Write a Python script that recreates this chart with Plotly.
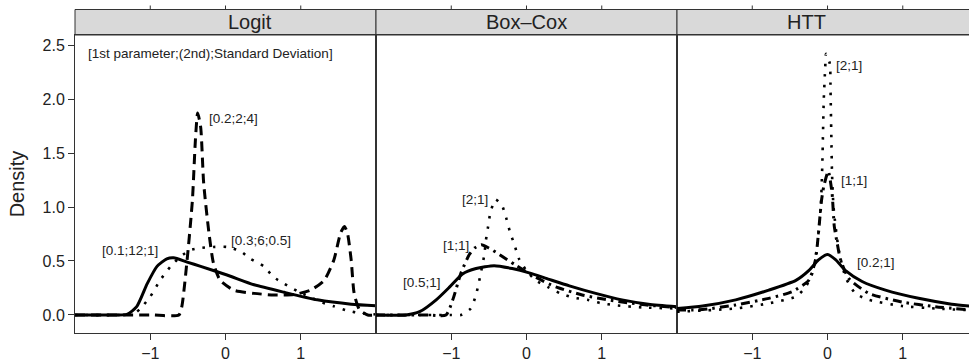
import plotly.graph_objects as go

# ---------------- data ----------------
panels = ["Logit", "Box\u2013Cox", "HTT"]

# Logit panel
logit_a_x = [-2.0, -1.5, -1.31, -1.18, -1.04, -0.91, -0.78, -0.69, -0.51, -0.33, 0.02, 0.38, 0.78, 1.22, 1.67, 2.0]
logit_a_y = [0.0, 0.0, 0.005, 0.077, 0.29, 0.45, 0.52, 0.53, 0.49, 0.45, 0.37, 0.28, 0.21, 0.14, 0.10, 0.086]
logit_b_x = [-2.0, -1.0, -0.62, -0.58, -0.51, -0.44, -0.40, -0.37, -0.33, -0.29, -0.22, -0.16, -0.07, 0.11, 0.38, 0.64, 0.91, 1.13, 1.31, 1.44, 1.53, 1.58, 1.62, 1.67, 1.71, 1.78, 1.89, 2.0]
logit_b_y = [0.0, 0.0, 0.0, 0.08, 0.51, 1.06, 1.62, 1.87, 1.74, 1.22, 0.76, 0.48, 0.32, 0.23, 0.20, 0.185, 0.19, 0.23, 0.32, 0.51, 0.76, 0.82, 0.76, 0.51, 0.20, 0.05, 0.0, 0.0]
logit_c_x = [-2.0, -1.4, -1.22, -1.13, -1.0, -0.87, -0.73, -0.6, -0.47, -0.33, -0.16, 0.02, 0.2, 0.33, 0.51, 0.64, 0.78, 0.96, 1.27, 1.44, 1.62, 1.8, 2.0]
logit_c_y = [0.0, 0.0, 0.01, 0.06, 0.17, 0.32, 0.45, 0.54, 0.60, 0.62, 0.63, 0.63, 0.59, 0.52, 0.45, 0.35, 0.29, 0.22, 0.12, 0.08, 0.04, 0.015, 0.005]

# Box-Cox panel
bc_a_x = [-2.0, -1.6, -1.42, -1.2, -1.02, -0.85, -0.67, -0.43, -0.19, 0.035, 0.3, 0.57, 0.92, 1.27, 1.62, 2.0]
bc_a_y = [0.0, 0.0, 0.03, 0.14, 0.26, 0.38, 0.43, 0.457, 0.43, 0.39, 0.33, 0.27, 0.20, 0.14, 0.10, 0.077]
bc_b_x = [-2.0, -1.3, -1.07, -0.98, -0.87, -0.76, -0.69, -0.6, -0.5, -0.36, -0.14, 0.12, 0.39, 0.74, 1.0, 1.27, 1.62, 2.0]
bc_b_y = [0.0, 0.0, 0.0, 0.14, 0.39, 0.56, 0.62, 0.65, 0.62, 0.56, 0.46, 0.35, 0.26, 0.185, 0.15, 0.12, 0.09, 0.07]
bc_c_x = [-2.0, -1.0, -0.87, -0.74, -0.67, -0.63, -0.56, -0.54, -0.51, -0.48, -0.43, -0.41, -0.33, -0.27, -0.22, -0.16, -0.1, -0.01, 0.12, 0.28, 0.45, 0.63, 0.81, 0.98, 1.18, 1.54, 2.0]
bc_c_y = [0.0, 0.0, 0.0, 0.06, 0.19, 0.31, 0.56, 0.69, 0.82, 0.95, 1.05, 1.07, 1.02, 0.90, 0.77, 0.65, 0.52, 0.42, 0.32, 0.26, 0.20, 0.16, 0.14, 0.11, 0.09, 0.07, 0.06]

# HTT panel
htt_a_x = [-2.0, -1.66, -1.22, -0.78, -0.42, -0.25, -0.12, 0.0, 0.11, 0.24, 0.46, 0.77, 1.21, 1.65, 2.0]
htt_a_y = [0.06, 0.083, 0.14, 0.23, 0.32, 0.41, 0.51, 0.56, 0.51, 0.41, 0.31, 0.23, 0.154, 0.10, 0.075]
htt_b_x = [-2.0, -1.66, -1.22, -0.78, -0.47, -0.25, -0.16, -0.12, -0.08, -0.05, 0.01, 0.06, 0.09, 0.13, 0.17, 0.28, 0.55, 0.99, 1.43, 2.0]
htt_b_y = [0.046, 0.05, 0.093, 0.154, 0.216, 0.32, 0.51, 0.76, 1.06, 1.19, 1.33, 1.13, 0.82, 0.66, 0.52, 0.34, 0.20, 0.12, 0.077, 0.04]
htt_c_x = [-2.0, -1.22, -0.78, -0.42, -0.29, -0.2, -0.14, -0.09, -0.07, -0.06, -0.05, -0.03, -0.02, 0.03, 0.04, 0.05, 0.06, 0.08, 0.15, 0.24, 0.37, 0.55, 0.99, 1.43, 2.0]
htt_c_y = [0.03, 0.06, 0.108, 0.17, 0.26, 0.39, 0.63, 1.0, 1.37, 1.68, 1.99, 2.3, 2.42, 2.33, 2.08, 1.68, 1.31, 1.0, 0.6, 0.35, 0.2, 0.14, 0.083, 0.06, 0.04]

# labels: (panel index, text, x, y)
label_panel = [0, 0, 0, 0, 1, 1, 1, 2, 2, 2]
label_text = ["[1st parameter;(2nd);Standard Deviation]", "[0.2;2;4]", "[0.3;6;0.5]", "[0.1;12;1]",
              "[2;1]", "[1;1]", "[0.5;1]", "[2;1]", "[1;1]", "[0.2;1]"]
label_x = [-1.85, -0.24, 0.05, -1.67, -0.89, -1.13, -1.67, 0.09, 0.15, 0.37]
label_y = [2.42, 1.82, 0.69, 0.60, 1.07, 0.64, 0.30, 2.31, 1.25, 0.485]

x_ticks = [-1, 0, 1]
y_ticks = [0.0, 0.5, 1.0, 1.5, 2.0, 2.5]
x_ranges = [[-2.0, 2.0], [-2.0, 2.0], [-2.0, 1.88]]
y_range = [-0.167, 2.593]

# ---------------- styles ----------------
SOLID = dict(color="black", width=3, dash="solid")
DASH = dict(color="black", width=3, dash="10px,6px")
DOT = dict(color="black", width=2.6, dash="2.5px,8px")
DASHDOT = dict(color="black", width=3, dash="9px,5px,2.5px,5px")

series = [
    (0, logit_a_x, logit_a_y, SOLID),
    (0, logit_b_x, logit_b_y, DASH),
    (0, logit_c_x, logit_c_y, DOT),
    (1, bc_a_x, bc_a_y, SOLID),
    (1, bc_b_x, bc_b_y, DASHDOT),
    (1, bc_c_x, bc_c_y, DOT),
    (2, htt_a_x, htt_a_y, SOLID),
    (2, htt_b_x, htt_b_y, DASHDOT),
    (2, htt_c_x, htt_c_y, DOT),
]

FONT = "Liberation Sans, Arial, sans-serif"
W, H = 969, 362
ML, MR, MT, MB = 75, 0, 0, 29
plot_w = W - ML - MR
plot_h = H - MT - MB
panel_px = [301, 301, 292]
edges = [0]
for p in panel_px:
    edges.append(edges[-1] + p)
domains = [[edges[i] / plot_w, min(edges[i + 1] / plot_w, 1.0)] for i in range(3)]
y_dom_top = 298 / plot_h
strip_top = (plot_h - 9.5) / plot_h

fig = go.Figure()
for pi, xs, ys, ln in series:
    ax = "" if pi == 0 else str(pi + 1)
    fig.add_trace(go.Scatter(x=xs, y=ys, mode="lines", line=dict(shape="spline", smoothing=0.6, **ln),
                             xaxis="x" + ax, yaxis="y" + ax, showlegend=False, hoverinfo="skip"))

layout = dict(
    width=W, height=H,
    margin=dict(l=ML, r=MR, t=MT, b=MB),
    plot_bgcolor="white", paper_bgcolor="white",
    font=dict(family=FONT, color="#222"),
    showlegend=False,
)
AXC = "#333"
for i in range(3):
    ax = "" if i == 0 else str(i + 1)
    layout["xaxis" + ax] = dict(
        domain=domains[i], range=x_ranges[i], anchor="y" + ax,
        tickvals=x_ticks, ticktext=["\u22121", "0", "1"],
        ticks="outside", ticklen=6, tickcolor=AXC, tickwidth=1,
        showline=True, linecolor=AXC, linewidth=1, mirror=True,
        showgrid=False, zeroline=False, automargin=False,
        tickfont=dict(size=16, color="#222"),
    )
    layout["yaxis" + ax] = dict(
        domain=[0, y_dom_top], range=y_range, anchor="x" + ax,
        tickvals=y_ticks,
        showline=True, linecolor=AXC, linewidth=1, mirror=(i < 2),
        showgrid=False, zeroline=False, automargin=False,
        ticks="outside" if i == 0 else "", ticklen=6, tickcolor=AXC,
        showticklabels=(i == 0),
        tickfont=dict(size=16, color="#222"), tickformat=".1f",
    )
layout["yaxis"]["title"] = dict(text="Density", font=dict(size=20, color="#222"), standoff=12)
fig.update_layout(**layout)

# strips
for i in range(3):
    fig.add_shape(type="rect", xref="paper", yref="paper",
                  x0=domains[i][0], x1=domains[i][1] + (0.01 if i == 2 else 0), y0=y_dom_top, y1=strip_top,
                  fillcolor="#d9d9d9", line=dict(color=AXC, width=1), layer="below")
    fig.add_annotation(xref="paper", yref="paper", x=(domains[i][0] + domains[i][0] + 301 / plot_w) / 2,
                       y=(y_dom_top + strip_top) / 2, text=panels[i], showarrow=False,
                       font=dict(size=20, color="#222"), yanchor="middle")
    ax = "" if i == 0 else str(i + 1)
    for t in x_ticks:
        fig.add_shape(type="line", xref="x" + ax, yref="paper", x0=t, x1=t,
                      y0=strip_top, y1=strip_top + 4 / plot_h, line=dict(color=AXC, width=1))

# labels
for pi, txt, lx, ly in zip(label_panel, label_text, label_x, label_y):
    ax = "" if pi == 0 else str(pi + 1)
    fig.add_annotation(xref="x" + ax, yref="y" + ax, x=lx, y=ly, text=txt, showarrow=False,
                       xanchor="left", yanchor="middle", font=dict(size=13.5, color="#222"))

fig.write_html("out.html", config={"displayModeBar": False},
               post_script="document.body.style.margin='0px';document.body.style.overflow='hidden';")
